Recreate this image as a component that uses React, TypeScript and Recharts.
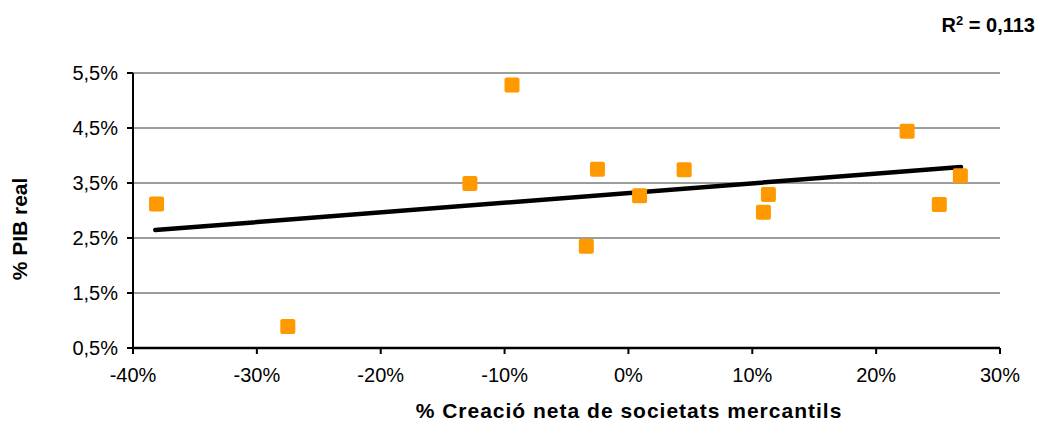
import React from 'react';
import { ScatterChart, Scatter, XAxis, YAxis, CartesianGrid, Label } from 'recharts';

// % creació neta de societats mercantils vs % PIB real
const creacioNeta = [-38.1, -27.5, -12.8, -9.4, -3.4, -2.5, 0.9, 4.5, 10.9, 11.3, 22.5, 25.1, 26.8];
const pibReal = [3.12, 0.89, 3.49, 5.28, 2.35, 3.75, 3.27, 3.74, 2.97, 3.29, 4.44, 3.11, 3.63];

// trend line end points (linear fit)
const trendX = [-38.2, 26.85];
const trendY = [2.645, 3.79];

const xTicks = [-40, -30, -20, -10, 0, 10, 20, 30];
const yTicks = [0.5, 1.5, 2.5, 3.5, 4.5, 5.5];

const points = creacioNeta.map((x, i) => ({ x, y: pibReal[i] }));
const trend = trendX.map((x, i) => ({ x, y: trendY[i] }));

const FONT = '"Liberation Sans", Arial, sans-serif';

const Square = (props: any) => {
  const { cx, cy } = props;
  if (cx == null || cy == null) return null;
  return <rect x={cx - 7.5} y={cy - 7.5} width={15} height={15} rx={2} fill="#FF9900" />;
};

const App: React.FC = () => {
  return (
    <div style={{ position: 'absolute', left: 0, top: 0, width: 1042, height: 421, background: '#fff' }}>
      <ScatterChart width={1042} height={421} margin={{ top: 73, right: 42, bottom: 33, left: 38 }}>
        <CartesianGrid horizontal vertical={false} stroke="#3a3a3a" strokeWidth={1} />
        <XAxis
          type="number"
          dataKey="x"
          domain={[-40, 30]}
          ticks={xTicks}
          height={40}
          tickFormatter={(v: number) => `${v}%`}
          tick={{ fill: '#000', fontSize: 20, fontFamily: FONT }}
          tickSize={6}
          tickMargin={14}
          axisLine={{ stroke: '#000', strokeWidth: 2.5 }}
          tickLine={{ stroke: '#000', strokeWidth: 2 }}
        >
          <Label
            content={() => (
              <text
                x={629}
                y={418}
                textAnchor="middle"
                style={{ fill: '#000', fontSize: 21, fontWeight: 'bold', fontFamily: FONT, letterSpacing: 1 }}
              >
                % Creació neta de societats mercantils
              </text>
            )}
          />
        </XAxis>
        <YAxis
          type="number"
          dataKey="y"
          domain={[0.5, 5.5]}
          ticks={yTicks}
          width={95}
          tickFormatter={(v: number) => `${v.toFixed(1).replace('.', ',')}%`}
          tick={{ fill: '#000', fontSize: 20, fontFamily: FONT }}
          tickSize={6}
          tickMargin={9}
          axisLine={{ stroke: '#000', strokeWidth: 2 }}
          tickLine={{ stroke: '#000', strokeWidth: 2 }}
        >
          <Label
            content={() => (
              <text
                x={19.5}
                y={229}
                transform="rotate(-90 19.5 229)"
                textAnchor="middle"
                dominantBaseline="central"
                style={{ fill: '#000', fontSize: 21, fontWeight: 'bold', fontFamily: FONT }}
              >
                % PIB real
              </text>
            )}
          />
        </YAxis>
        <Scatter
          data={trend}
          isAnimationActive={false}
          line={{ stroke: '#000', strokeWidth: 4.5, strokeLinecap: 'round' }}
          shape={() => null}
        />
        <Scatter data={points} isAnimationActive={false} shape={<Square />} />
      </ScatterChart>
      <div
        style={{
          position: 'absolute',
          right: 7,
          top: 13,
          fontFamily: FONT,
          fontWeight: 'bold',
          fontSize: 20,
          color: '#000',
          lineHeight: '24px',
        }}
      >
        R<sup style={{ fontSize: 13, verticalAlign: 'top', position: 'relative', top: -4 }}>2</sup> = 0,113
      </div>
    </div>
  );
};

export default App;
